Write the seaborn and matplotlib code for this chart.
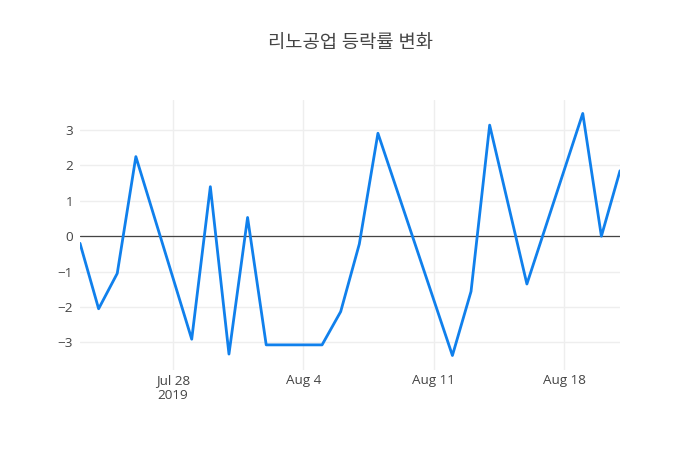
import pandas as pd
import matplotlib
matplotlib.use("Agg")
import matplotlib.pyplot as plt
import seaborn as sns

# trading days and daily change rate (%)
dates = ["2019-07-23", "2019-07-24", "2019-07-25", "2019-07-26", "2019-07-29",
         "2019-07-30", "2019-07-31", "2019-08-01", "2019-08-02", "2019-08-05",
         "2019-08-06", "2019-08-07", "2019-08-08", "2019-08-12", "2019-08-13",
         "2019-08-14", "2019-08-16", "2019-08-19", "2019-08-20", "2019-08-21"]
changes = [-0.20, -2.05, -1.05, 2.25, -2.91,
           1.40, -3.33, 0.53, -3.07, -3.07,
           -2.13, -0.22, 2.91, -3.37, -1.56,
           3.14, -1.35, 3.47, 0.00, 1.85]
xticks = ["2019-07-28", "2019-08-04", "2019-08-11", "2019-08-18"]
xtick_labels = ["Jul 28\n2019", "Aug 4", "Aug 11", "Aug 18"]
yticks = [-3, -2, -1, 0, 1, 2, 3]
title = "리노공업 등락률 변화"

df = pd.DataFrame({"date": pd.to_datetime(dates), "change": changes})

sns.set_style("white")
plt.rcParams["font.family"] = ["Open Sans", "Noto Sans CJK KR", "DejaVu Sans"]

fig = plt.figure(figsize=(7, 4.5), dpi=100)
ax = fig.add_axes([80 / 700, 80 / 450, 540 / 700, 270 / 450])

sns.lineplot(data=df, x="date", y="change", ax=ax, color="#1080ec", linewidth=2)

ax.set_xlim(df["date"].min(), df["date"].max())
ax.set_ylim(-3.78, 3.85)
ax.set_xticks(pd.to_datetime(xticks))
ax.set_xticklabels(xtick_labels, linespacing=1.15)
ax.set_yticks(yticks)
ax.set_yticklabels([str(v).replace("-", "\u2212") for v in yticks])
ax.grid(True, color="#eeeeee", linewidth=1)
ax.axhline(0, color="#444444", linewidth=0.9, zorder=1.5)
for s in ax.spines.values():
    s.set_visible(False)
ax.tick_params(length=0, labelsize=9.7, colors="#444444")
ax.tick_params(axis="x", pad=3)
ax.tick_params(axis="y", pad=5)
ax.set_xlabel("")
ax.set_ylabel("")

fig.text(0.5, 1 - 43 / 450, title, ha="center", va="center",
         fontsize=13.5, color="#444444")

fig.savefig("out.png", dpi=100)
